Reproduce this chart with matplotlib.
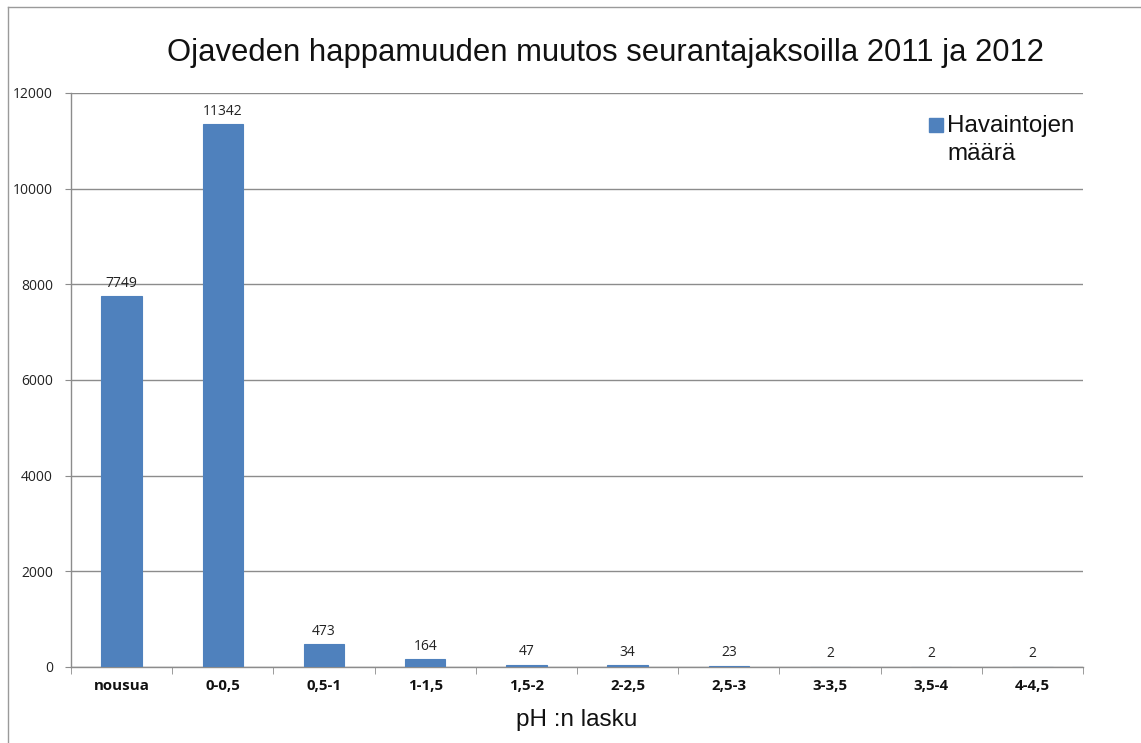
import matplotlib
matplotlib.use("Agg")
import matplotlib.pyplot as plt
from matplotlib.lines import Line2D
import numpy as np

categories = ["nousua", "0-0,5", "0,5-1", "1-1,5", "1,5-2", "2-2,5",
              "2,5-3", "3-3,5", "3,5-4", "4-4,5"]
counts = [7749, 11342, 473, 164, 47, 34, 23, 2, 2, 2]
y_ticks = [0, 2000, 4000, 6000, 8000, 10000, 12000]

title = "Ojaveden happamuuden muutos seurantajaksoilla 2011 ja 2012"
x_label = "pH :n lasku"
series_name = "Havaintojen\nmäärä"

bar_color = "#4F81BD"
grid_color = "#8C8C8C"
label_font = ["Open Sans", "DejaVu Sans"]
title_font = ["Liberation Sans", "DejaVu Sans"]

W, H = 1141, 743
fig = plt.figure(figsize=(W / 100, H / 100), dpi=100)
ax = fig.add_axes([71 / W, 1 - 667 / H, (1083 - 71) / W, (667 - 93) / H])

x = np.arange(len(categories))
ax.bar(x, counts, width=0.4, color=bar_color, edgecolor=bar_color,
       linewidth=0.8, zorder=3)

for xi, v in zip(x, counts):
    ax.annotate(f"{v}", (xi, v), xytext=(0, 4), textcoords="offset points",
                ha="center", va="bottom", fontsize=10, color="#222222",
                family=label_font)

ax.set_xlim(-0.5, len(categories) - 0.5)
ax.set_ylim(0, 12000)
ax.set_yticks(y_ticks)
ax.set_yticklabels([str(t) for t in y_ticks], family=label_font,
                   fontsize=10, color="#222222")
ax.yaxis.grid(True, color=grid_color, linewidth=1.0, zorder=0)
ax.tick_params(axis="y", direction="out", length=4, color=grid_color, pad=9)

ax.set_xticks(x)
ax.set_xticklabels(categories, family=label_font, fontsize=10.8,
                   fontweight="bold", color="#111111")
ax.tick_params(axis="x", which="major", length=0, pad=9)
ax.set_xticks(np.arange(len(categories) + 1) - 0.5, minor=True)
ax.tick_params(axis="x", which="minor", direction="out", length=5,
               color=grid_color)

for side in ("top", "right"):
    ax.spines[side].set_visible(False)
for side in ("left", "bottom"):
    ax.spines[side].set_color(grid_color)
    ax.spines[side].set_linewidth(1.0)

fig.text(577 / W, 1 - 720 / H, x_label, ha="center", va="center",
         family=title_font, fontsize=17.5, color="#111111")

fig.text(605 / W, 1 - 53 / H, title, ha="center", va="center",
         family=title_font, fontsize=22.3, color="#111111")

# legend entry
fig.patches.append(plt.Rectangle((929 / W, 1 - 132 / H), 14 / W, 14 / H,
                                 transform=fig.transFigure,
                                 color=bar_color))
fig.text(947 / W, 1 - 115 / H, series_name, ha="left", va="top",
         family=title_font, fontsize=17.4, color="#111111", linespacing=1.35)

# outer frame
fig.add_artist(Line2D([8 / W, 1], [1 - 7 / H, 1 - 7 / H],
                      transform=fig.transFigure, color="#9A9A9A", lw=1))
fig.add_artist(Line2D([8 / W, 8 / W], [0, 1 - 7 / H],
                      transform=fig.transFigure, color="#9A9A9A", lw=1))

fig.savefig("out.png", dpi=100)
